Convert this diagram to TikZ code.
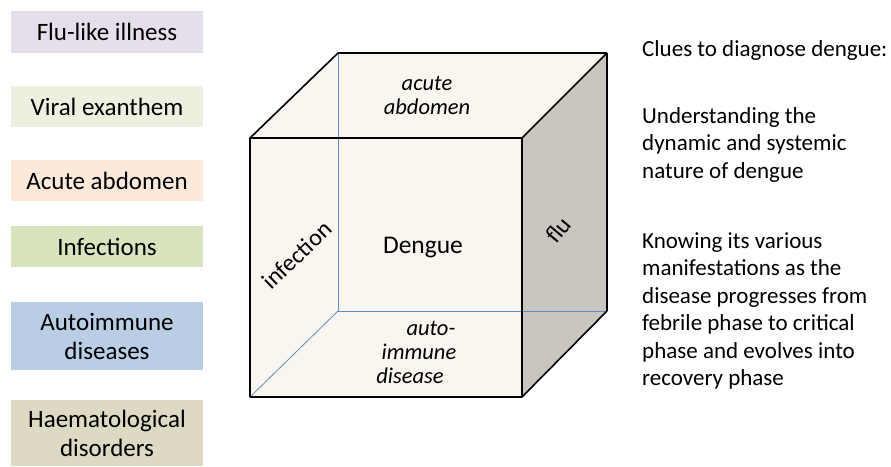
\documentclass[tikz,border=0pt]{standalone}
\usepackage{fontspec}
\setmainfont{Carlito}
\definecolor{lav}{HTML}{E5DFEC}
\definecolor{pal}{HTML}{EBF1DE}
\definecolor{pea}{HTML}{FDE9D9}
\definecolor{grn}{HTML}{D7E4BD}
\definecolor{blu}{HTML}{B9CDE5}
\definecolor{tan}{HTML}{DDD9C3}
\definecolor{cream}{HTML}{F8F6EE}
\definecolor{side}{HTML}{C9C6BF}
\definecolor{hidden}{HTML}{5B8DC8}
\begin{document}
\begin{tikzpicture}[x=1pt,y=-1pt,
	every node/.style={font=\fontsize{23}{28}\selectfont, inner sep=0pt},
	labelbox/.style={minimum width=192pt, align=center, font=\fontsize{25}{29}\selectfont},
	facetext/.style={font=\fontsize{22.5}{24}\selectfont\itshape, align=center},
	cluetext/.style={anchor=base west},
	edge/.style={line width=1.6pt, line join=round}]
\useasboundingbox (0,0) rectangle (891,466);

% boxes on the left
\foreach [count=\i] \y/\h/\c/\t in {
32/42/lav/Flu-like illness%
,106.5/41/pal/Viral exanthem%
,180.5/41/pea/Acute abdomen%
,246.5/41/grn/Infections%
,336/68/blu/{Autoimmune\\diseases}%
,433/66/tan/{Haematological\\disorders}%
}{
	\node[labelbox, fill=\c, minimum height=\h pt](b\i) at(107,\y) {\t};
}

% cube corners
\coordinate(a) at(250,138);
\coordinate(b) at(522,138);
\coordinate(c) at(522,397);
\coordinate(d) at(250,397);
\coordinate(e) at(338,53);
\coordinate(f) at(607,53);
\coordinate(g) at(607,311);
\coordinate(h) at(338,311);

\fill[cream] (a) -- (e) -- (f) -- (b) -- cycle;
\fill[side] (b) -- (f) -- (g) -- (c) -- cycle;
\fill[cream] (a) -- (b) -- (c) -- (d) -- cycle;

\foreach \u \v in {e/h,h/g,h/d}{
	\draw[hidden, line width=0.8pt] (\u) -- (\v);
}
\draw[edge] (a) -- (b) -- (c) -- (d) -- cycle;
\foreach \u \v in {a/e,e/f,f/b,f/g,g/c}{
	\draw[edge] (\u) -- (\v);
}

\node[facetext](top) at(427,95) {acute\\abdomen};
\node[font=\fontsize{25.5}{28}\selectfont](dengue) at(423,248) {Dengue};
\node[rotate=44, font=\fontsize{24}{28}\selectfont](inf) at(297,255) {infection};
\node[rotate=50, font=\fontsize{24}{28}\selectfont](flu) at(558,230) {flu};
\node[facetext](bot) at(419,352) {\hspace*{24pt}auto-\\immune\\disease\hspace*{18pt}};

% clues on the right
\node[cluetext](clue) at(642,56) {Clues to diagnose dengue:};
\foreach [count=\i] \t in {Understanding the, dynamic and systemic, nature of dengue}{
	\node[cluetext](u\i) at(642,{123+27.5*(\i-1)}) {\t};
}
\foreach [count=\i] \t in {Knowing its various, manifestations as the,
	disease progresses from, febrile phase to critical,
	phase and evolves into, recovery phase}{
	\node[cluetext](k\i) at(642,{248+27.5*(\i-1)}) {\t};
}

\end{tikzpicture}
\end{document}
